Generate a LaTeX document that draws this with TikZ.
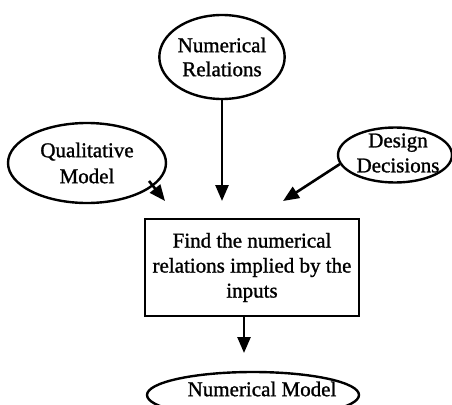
\documentclass[tikz,border=0pt]{standalone}
\usepackage{fontspec}
\setmainfont{Liberation Serif}[FakeBold=1.2]
\usetikzlibrary{arrows.meta,shapes.geometric}
\begin{document}
\begin{tikzpicture}[x=1pt,y=-1pt,
  every node/.style={font=\fontsize{21}{25}\selectfont},
  oval/.style={draw,ellipse,line width=2.4pt,inner sep=0pt,align=center},
  procbox/.style={draw,rectangle,line width=2.6pt,inner sep=0pt,align=center},
  flow/.style={line width=2.6pt,-{Triangle[width=13pt,length=16pt]}}]
  \useasboundingbox (0,0) rectangle (452,404);
  % input sources
  \node[oval,minimum width=118pt,minimum height=84pt] (nr) at (222,57) {Numerical\\[-1pt]Relations};
  \node[oval,minimum width=158pt,minimum height=80pt] (qm) at (87,163) {Qualitative\\[1pt]Model};
  \node[oval,minimum width=114pt,minimum height=55pt] (dd) at (395,155) {};
  \node[inner sep=0pt,align=center] (ddtext) at (398,153) {Design\\Decisions};
  % processing step
  \node[procbox,minimum width=214pt,minimum height=97pt] (box) at (252,267.5) {Find the numerical\\relations implied by the\\inputs};
  % result
  \node[oval,minimum width=212pt,minimum height=46pt] (nm) at (253,395) {};
  \node[inner sep=0pt] (nmtext) at (262,389) {Numerical Model};
  % arrow end points
  \coordinate (qs) at (149,181);
  \coordinate (qe) at (165,201);
  \coordinate (ne) at (222,201);
  \coordinate (ds) at (340,164);
  \coordinate (de) at (283,201);
  \coordinate (bs) at (244,316);
  \coordinate (be) at (244,353);
  \draw[flow] (qs) -- (qe);
  \draw[flow] (nr.south) -- (ne);
  \draw[flow] (ds) -- (de);
  \draw[flow] (bs) -- (be);
\end{tikzpicture}
\end{document}
